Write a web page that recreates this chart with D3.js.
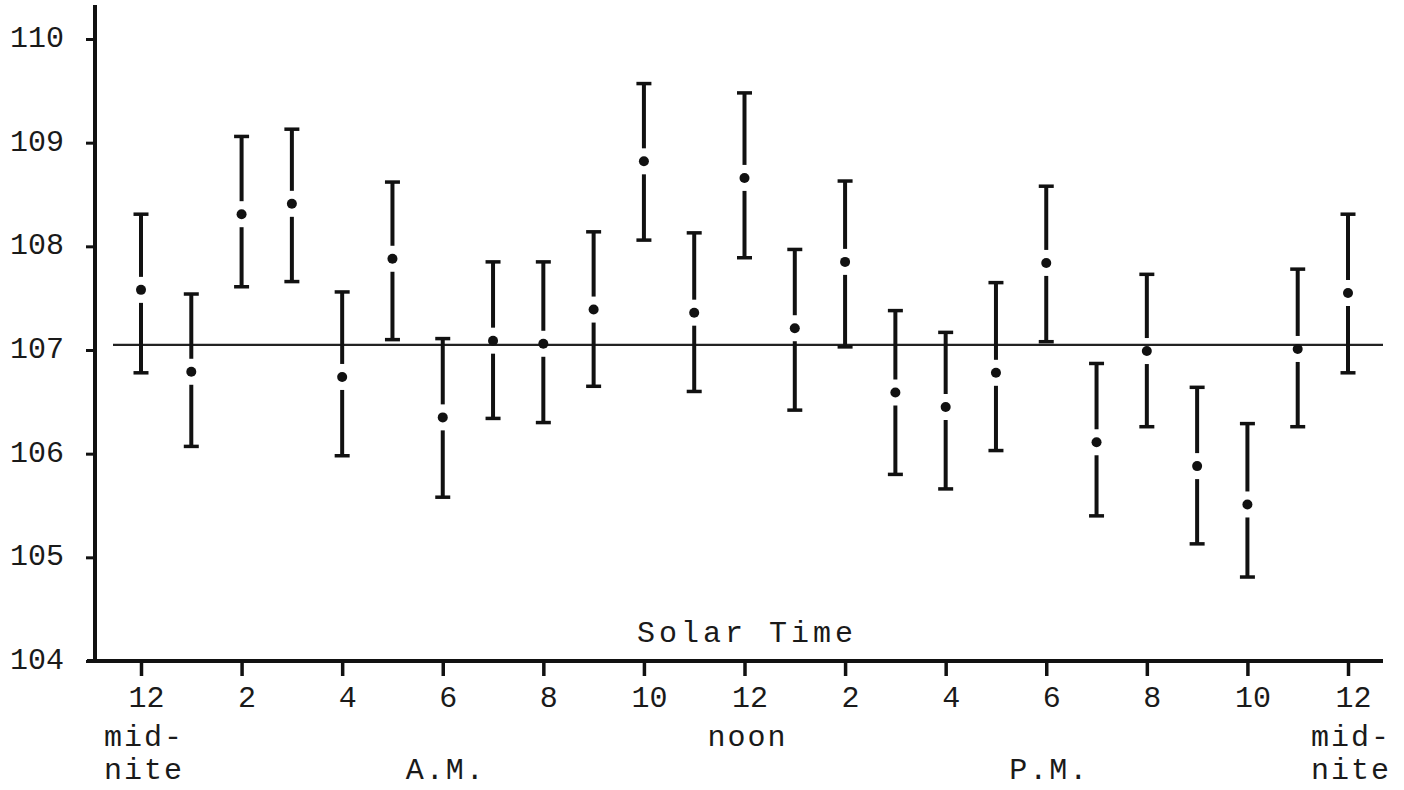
<!DOCTYPE html>
<html>
<head>
<meta charset="utf-8">
<script src="https://cdn.jsdelivr.net/npm/d3@7"></script>
<style>
  body { margin: 0; background: #fff; }
  text { font-family: "Liberation Mono", "DejaVu Sans Mono", monospace; fill: #1a1a1a; }
</style>
</head>
<body>
<script>
// hours of solar time, 0 = midnight
const hours = [0,1,2,3,4,5,6,7,8,9,10,11,12,13,14,15,16,17,18,19,20,21,22,23,24];
const means = [107.58,106.79,108.31,108.41,106.74,107.88,106.35,107.09,107.06,107.39,108.82,107.36,108.66,
               107.21,107.85,106.59,106.45,106.78,107.84,106.11,106.99,105.88,105.51,107.01,107.55];
const upper = [108.31,107.54,109.06,109.13,107.56,108.62,107.11,107.85,107.85,108.14,109.57,108.13,109.48,
               107.97,108.63,107.38,107.17,107.65,108.58,106.87,107.73,106.64,106.29,107.78,108.31];
const lower = [106.78,106.07,107.61,107.66,105.98,107.10,105.58,106.34,106.30,106.65,108.06,106.60,107.89,
               106.42,107.03,105.80,105.66,106.03,107.08,105.40,106.26,105.13,104.81,106.26,106.78];
const refValue = 107.05;

const xTicks = [0,2,4,6,8,10,12,14,16,18,20,22,24];
const xTickLabels = ["12","2","4","6","8","10","12","2","4","6","8","10","12"];
const yTicks = [104,105,106,107,108,109,110];
const subLabels = [
  {hour: 0, lines: ["mid-","nite"]},
  {hour: 12, lines: ["noon"]},
  {hour: 6, lines: ["", "A.M."]},
  {hour: 18, lines: ["", "P.M."]},
  {hour: 24, lines: ["mid-","nite"]}
];
const xTitle = "Solar Time";

const width = 1404, height = 790;

const svg = d3.select("body").append("svg")
  .attr("width", width)
  .attr("height", height);

const xScale = d3.scaleLinear().domain([0, 24]).range([141, 1348]);
const yScale = d3.scaleLinear().domain([104, 110]).range([661, 39]);

const axisX = 95, axisRight = 1383, axisTop = 5;

// y axis
const yAxis = svg.append("g")
  .attr("transform", "translate(" + axisX + ",0)")
  .call(d3.axisLeft(yScale).tickValues(yTicks).tickSize(9).tickPadding(22).tickFormat(d3.format("d")));
yAxis.select(".domain").remove();
yAxis.selectAll(".tick line").attr("stroke", "#111").attr("stroke-width", 3);
yAxis.selectAll(".tick text").attr("font-size", 30).attr("font-family", "Liberation Mono")
  .attr("fill", "#1a1a1a").attr("dy", "0.25em");

svg.append("line")
  .attr("x1", axisX).attr("x2", axisX)
  .attr("y1", axisTop).attr("y2", yScale(104))
  .attr("stroke", "#111").attr("stroke-width", 4);

// x axis
const xAxis = svg.append("g")
  .attr("transform", "translate(0," + yScale(104) + ")")
  .call(d3.axisBottom(xScale).tickValues(xTicks).tickSize(15).tickPadding(10)
    .tickFormat((d, i) => xTickLabels[i]));
xAxis.select(".domain").remove();
xAxis.selectAll(".tick line").attr("stroke", "#111").attr("stroke-width", 3.5);
xAxis.selectAll(".tick text").attr("font-size", 30).attr("font-family", "Liberation Mono")
  .attr("fill", "#1a1a1a").attr("dx", 5);

svg.append("line")
  .attr("x1", 87).attr("x2", axisRight)
  .attr("y1", yScale(104)).attr("y2", yScale(104))
  .attr("stroke", "#111").attr("stroke-width", 4);

// sub labels under the ticks
subLabels.forEach(s => {
  s.lines.forEach((t, j) => {
    if (!t) return;
    svg.append("text")
      .attr("x", xScale(s.hour) + 3)
      .attr("y", 746 + j * 33)
      .attr("text-anchor", "middle")
      .attr("font-size", 30)
      .attr("letter-spacing", 2)
      .text(t);
  });
});

svg.append("text")
  .attr("x", 747)
  .attr("y", 642)
  .attr("text-anchor", "middle")
  .attr("font-size", 30)
  .attr("letter-spacing", 4)
  .text(xTitle);

// reference line
svg.append("line")
  .attr("x1", 113).attr("x2", axisRight)
  .attr("y1", yScale(refValue)).attr("y2", yScale(refValue))
  .attr("stroke", "#222").attr("stroke-width", 2.2);

// error bars
const data = hours.map((h, i) => ({hour: h, mean: means[i], hi: upper[i], lo: lower[i]}));
const gap = 13, capW = 15;

const bars = svg.append("g").selectAll("g")
  .data(data)
  .enter()
  .append("g");

bars.append("line")
  .attr("x1", d => xScale(d.hour)).attr("x2", d => xScale(d.hour))
  .attr("y1", d => yScale(d.hi)).attr("y2", d => yScale(d.mean) - gap)
  .attr("stroke", "#111").attr("stroke-width", 4);

bars.append("line")
  .attr("x1", d => xScale(d.hour)).attr("x2", d => xScale(d.hour))
  .attr("y1", d => yScale(d.mean) + gap).attr("y2", d => yScale(d.lo))
  .attr("stroke", "#111").attr("stroke-width", 4);

bars.append("line")
  .attr("x1", d => xScale(d.hour) - capW / 2).attr("x2", d => xScale(d.hour) + capW / 2)
  .attr("y1", d => yScale(d.hi)).attr("y2", d => yScale(d.hi))
  .attr("stroke", "#111").attr("stroke-width", 3.5);

bars.append("line")
  .attr("x1", d => xScale(d.hour) - capW / 2).attr("x2", d => xScale(d.hour) + capW / 2)
  .attr("y1", d => yScale(d.lo)).attr("y2", d => yScale(d.lo))
  .attr("stroke", "#111").attr("stroke-width", 3.5);

bars.append("circle")
  .attr("cx", d => xScale(d.hour))
  .attr("cy", d => yScale(d.mean))
  .attr("r", 5)
  .attr("fill", "#111");
</script>
</body>
</html>
